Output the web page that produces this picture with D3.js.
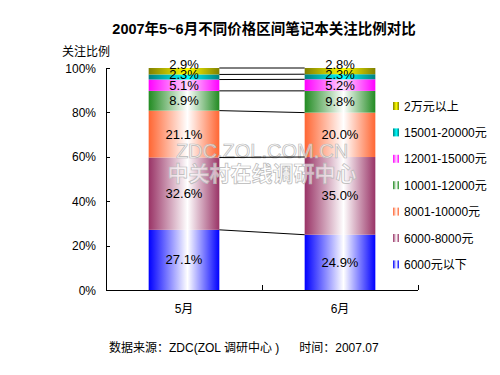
<!DOCTYPE html>
<html><head><meta charset="utf-8">
<script src="https://cdn.jsdelivr.net/npm/d3@7"></script>
<style>
body{margin:0;background:#fff;}
text{font-family:"Liberation Sans",Arial,"Noto Sans CJK SC",sans-serif;}
</style></head>
<body><svg id="c" width="500" height="375"></svg>
<script>
const categories = ["5月", "6月"];
const seriesNames = ["6000元以下", "6000-8000元", "8001-10000元", "10001-12000元", "12001-15000元", "15001-20000元", "2万元以上"];
const may = [27.1, 32.6, 21.1, 8.9, 5.1, 2.3, 2.9];
const june = [24.9, 35.0, 20.0, 9.8, 5.2, 2.3, 2.8];
const yTicks = [0, 20, 40, 60, 80, 100];
const edgeColors = ["#0000ff", "#993366", "#ff6633", "#228b22", "#ff00ff", "#008080", "#808000"];
const midColors  = ["#ffffff", "#ffffff", "#ffffff", "#ffffff", "#ffd8ff", "#00ffff", "#ffff00"];

const values = [may, june];
const svg = d3.select("#c");
const x = d3.scaleBand().domain(categories).range([106, 418]).paddingInner(0.547).paddingOuter(0.2735);
const y = d3.scaleLinear().domain([0, 100]).range([290, 68]);

const defs = svg.append("defs");
seriesNames.forEach((s, i) => {
  const g = defs.append("linearGradient").attr("id", "g" + i).attr("x1", "0").attr("x2", "1").attr("y1", "0").attr("y2", "0");
  g.append("stop").attr("offset", "0").attr("stop-color", edgeColors[i]);
  g.append("stop").attr("offset", "0.55").attr("stop-color", midColors[i]);
  g.append("stop").attr("offset", "1").attr("stop-color", edgeColors[i]);
});

// title
svg.append("text").attr("x", 264).attr("y", 34).attr("text-anchor", "middle")
  .attr("font-size", 14.5).attr("font-weight", "bold").text("2007年5~6月不同价格区间笔记本关注比例对比");
svg.append("text").attr("x", 62).attr("y", 56).attr("font-size", 12).text("关注比例");

// stacks
const stacks = values.map(v => { let c = 0; return v.map(d => { const s = {y0: c, y1: c + d, v: d}; c += d; return s; }); });

categories.forEach((cat, ci) => {
  const g = svg.append("g");
  g.selectAll("rect").data(stacks[ci]).enter().append("rect")
    .attr("x", x(cat)).attr("width", x.bandwidth())
    .attr("y", d => y(d.y1)).attr("height", d => y(d.y0) - y(d.y1))
    .attr("fill", (d, i) => "url(#g" + i + ")");
});

// watermark
const wm = svg.append("g").attr("text-anchor", "middle").attr("fill", "#ffffff").attr("fill-opacity", 0.6)
  .attr("stroke", "#b8b8b8").attr("stroke-width", 0.7);
wm.append("text").attr("x", 262).attr("y", 158).attr("font-size", 20).text("ZDC.ZOL.COM.CN");
wm.append("text").attr("x", 262).attr("y", 181).attr("font-size", 21).attr("font-weight", "bold").text("中关村在线调研中心");

// series lines
for (let i = 0; i < seriesNames.length; i++) {
  svg.append("line")
    .attr("x1", x(categories[0]) + x.bandwidth()).attr("x2", x(categories[1]))
    .attr("y1", y(stacks[0][i].y1)).attr("y2", y(stacks[1][i].y1))
    .attr("stroke", "#000").attr("stroke-width", 1);
}

// labels
categories.forEach((cat, ci) => {
  let prev = Infinity;
  stacks[ci].forEach((d, i) => {
    let cy = (y(d.y0) + y(d.y1)) / 2;
    cy = Math.min(cy, prev - 10.5);
    prev = cy;
    svg.append("text").attr("x", x(cat) + x.bandwidth() / 2).attr("y", cy + 4.5)
      .attr("text-anchor", "middle").attr("font-size", 13).text(d.v.toFixed(1) + "%");
  });
});

// axes
const ax = svg.append("g").attr("stroke", "#000").attr("shape-rendering", "crispEdges");
ax.append("line").attr("x1", 106.5).attr("x2", 106.5).attr("y1", y(100)).attr("y2", y(0));
ax.append("line").attr("x1", 106).attr("x2", 418).attr("y1", 290.5).attr("y2", 290.5);
yTicks.forEach(t => {
  ax.append("line").attr("x1", 106).attr("x2", 110).attr("y1", Math.round(y(t)) + 0.5).attr("y2", Math.round(y(t)) + 0.5);
  svg.append("text").attr("x", 96).attr("y", y(t) + 4.5).attr("text-anchor", "end").attr("font-size", 12).text(t + "%");
});
[x.range()[0], (x.range()[0] + x.range()[1]) / 2, x.range()[1]].forEach(p => {
  ax.append("line").attr("x1", Math.round(p) + 0.5).attr("x2", Math.round(p) + 0.5).attr("y1", 285).attr("y2", 290);
});
categories.forEach(c => {
  svg.append("text").attr("x", x(c) + x.bandwidth() / 2).attr("y", 313).attr("text-anchor", "middle").attr("font-size", 12).text(c);
});

// legend
const lg = svg.append("g");
const order = seriesNames.map((s, i) => i).reverse();
order.forEach((si, k) => {
  const ly = 106 + k * 26.4;
  lg.append("rect").attr("x", 393).attr("y", ly - 4).attr("width", 6).attr("height", 8).attr("fill", "url(#g" + si + ")");
  lg.append("text").attr("x", 404).attr("y", ly + 4.5).attr("font-size", 12).text(seriesNames[si]);
});

// footer
svg.append("text").attr("x", 109).attr("y", 352).attr("font-size", 12).attr("xml:space", "preserve")
  .text("数据来源：ZDC(ZOL 调研中心 )      时间：2007.07");
</script></body></html>
